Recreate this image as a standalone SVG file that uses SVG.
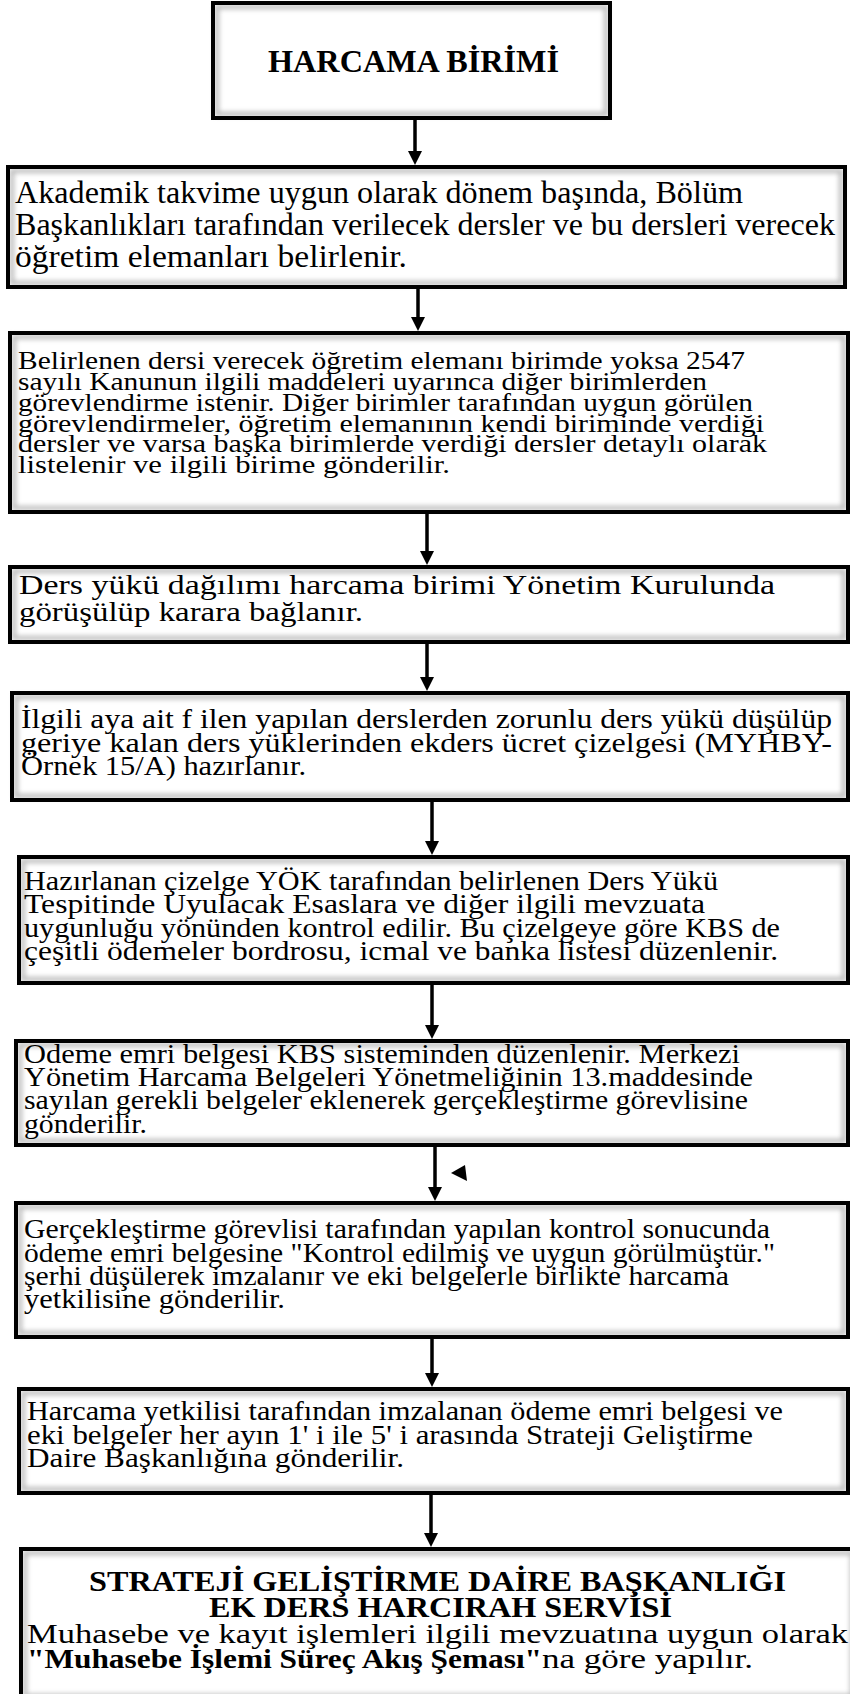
<svg xmlns="http://www.w3.org/2000/svg" width="850" height="1694" viewBox="0 0 850 1694" xml:space="preserve">
<defs>
<style>
text{font-family:"Liberation Serif","Times New Roman",serif;fill:#000;}
.t{font-size:28px;}
.t3{font-size:26px;}
.t2{font-size:31px;}
.b{font-weight:bold;font-size:29px;}
.bg{fill:#fff;stroke:none;}
.sh{fill:none;stroke:#b5b5b5;stroke-width:4;}
.bd{fill:none;stroke:#000;stroke-width:4;}
.conn{stroke:#000;stroke-width:3.5;fill:none;}
</style>
<filter id="blur" x="-5%" y="-20%" width="110%" height="140%"><feGaussianBlur stdDeviation="2.5"/></filter>
<marker id="ah" viewBox="0 0 14 14" refX="8" refY="7" markerWidth="14" markerHeight="14" markerUnits="userSpaceOnUse" orient="auto"><path d="M0,0 L14,7 L0,14 z" fill="#000"/></marker>
</defs>
<rect x="0" y="0" width="850" height="1694" fill="#fff"/>

<g id="n1">
<rect class="bg" x="213" y="3" width="397" height="115"/>
<rect class="sh" x="217" y="7" width="389" height="107" filter="url(#blur)"/>
<text class="b" x="268" y="72" style="font-size:32px" textLength="291" lengthAdjust="spacingAndGlyphs">HARCAMA BİRİMİ</text>
<rect class="bd" x="213" y="3" width="397" height="115"/>
</g>

<g id="n2">
<rect class="bg" x="8" y="167" width="837" height="120"/>
<rect class="sh" x="12" y="171" width="829" height="112" filter="url(#blur)"/>
<text class="t2" x="15" y="203" textLength="728" lengthAdjust="spacingAndGlyphs">Akademik takvime uygun olarak dönem başında, Bölüm</text>
<text class="t2" x="15" y="235" textLength="820" lengthAdjust="spacingAndGlyphs">Başkanlıkları tarafından verilecek dersler ve bu dersleri verecek</text>
<text class="t2" x="15" y="267" textLength="392" lengthAdjust="spacingAndGlyphs">öğretim  elemanları  belirlenir.</text>
<rect class="bd" x="8" y="167" width="837" height="120"/>
</g>

<g id="n3">
<rect class="bg" x="10" y="333" width="838" height="179"/>
<rect class="sh" x="14" y="337" width="830" height="171" filter="url(#blur)"/>
<text class="t3" x="18" y="369" textLength="727" lengthAdjust="spacingAndGlyphs">Belirlenen dersi verecek öğretim elemanı birimde yoksa 2547</text>
<text class="t3" x="18" y="390" textLength="689" lengthAdjust="spacingAndGlyphs">sayılı Kanunun ilgili maddeleri uyarınca diğer birimlerden</text>
<text class="t3" x="18" y="411" textLength="735" lengthAdjust="spacingAndGlyphs">görevlendirme istenir. Diğer birimler tarafından uygun görülen</text>
<text class="t3" x="18" y="432" textLength="746" lengthAdjust="spacingAndGlyphs">görevlendirmeler, öğretim elemanının kendi biriminde verdiği</text>
<text class="t3" x="18" y="452" textLength="749" lengthAdjust="spacingAndGlyphs">dersler ve varsa başka birimlerde verdiği dersler detaylı olarak</text>
<text class="t3" x="18" y="473" textLength="432" lengthAdjust="spacingAndGlyphs">listelenir  ve ilgili  birime   gönderilir.</text>
<rect class="bd" x="10" y="333" width="838" height="179"/>
</g>

<g id="n4">
<rect class="bg" x="10" y="567" width="838" height="75"/>
<rect class="sh" x="14" y="571" width="830" height="67" filter="url(#blur)"/>
<text class="t" x="19" y="594" textLength="756" lengthAdjust="spacingAndGlyphs">Ders yükü  dağılımı  harcama  birimi  Yönetim  Kurulunda</text>
<text class="t" x="19" y="621" textLength="344" lengthAdjust="spacingAndGlyphs">görüşülüp  karara bağlanır.</text>
<rect class="bd" x="10" y="567" width="838" height="75"/>
</g>

<g id="n5">
<rect class="bg" x="12" y="693" width="836" height="107"/>
<rect class="sh" x="16" y="697" width="828" height="99" filter="url(#blur)"/>
<text class="t" x="21" y="728" textLength="811" lengthAdjust="spacingAndGlyphs">İlgili aya ait f ilen yapılan derslerden zorunlu ders yükü düşülüp</text>
<text class="t" x="21" y="752" textLength="811" lengthAdjust="spacingAndGlyphs">geriye kalan ders yüklerinden ekders ücret çizelgesi (MYHBY-</text>
<text class="t" x="21" y="775" textLength="285" lengthAdjust="spacingAndGlyphs">Örnek 15/A) hazırlanır.</text>
<rect class="bd" x="12" y="693" width="836" height="107"/>
</g>

<g id="n6">
<rect class="bg" x="19" y="857" width="829" height="126"/>
<rect class="sh" x="23" y="861" width="821" height="118" filter="url(#blur)"/>
<text class="t" x="24" y="890" textLength="694" lengthAdjust="spacingAndGlyphs">Hazırlanan çizelge YÖK tarafından belirlenen Ders Yükü</text>
<text class="t" x="24" y="913" textLength="681" lengthAdjust="spacingAndGlyphs">Tespitinde  Uyulacak  Esaslara  ve diğer  ilgili  mevzuata</text>
<text class="t" x="24" y="937" textLength="756" lengthAdjust="spacingAndGlyphs">uygunluğu yönünden kontrol edilir. Bu çizelgeye göre KBS de</text>
<text class="t" x="24" y="960" textLength="754" lengthAdjust="spacingAndGlyphs">çeşitli  ödemeler  bordrosu,  icmal  ve banka listesi  düzenlenir.</text>
<rect class="bd" x="19" y="857" width="829" height="126"/>
</g>

<g id="n7">
<rect class="bg" x="16" y="1041" width="832" height="104"/>
<rect class="sh" x="20" y="1045" width="824" height="96" filter="url(#blur)"/>
<text class="t" x="24" y="1063" textLength="716" lengthAdjust="spacingAndGlyphs">Odeme emri belgesi KBS  sisteminden düzenlenir. Merkezi</text>
<text class="t" x="24" y="1086" textLength="729" lengthAdjust="spacingAndGlyphs">Yönetim Harcama Belgeleri Yönetmeliğinin 13.maddesinde</text>
<text class="t" x="24" y="1109" textLength="724" lengthAdjust="spacingAndGlyphs">sayılan gerekli belgeler eklenerek gerçekleştirme görevlisine</text>
<text class="t" x="24" y="1133" textLength="123" lengthAdjust="spacingAndGlyphs">gönderilir.</text>
<rect class="bd" x="16" y="1041" width="832" height="104"/>
</g>

<g id="n8">
<rect class="bg" x="16" y="1203" width="832" height="134"/>
<rect class="sh" x="20" y="1207" width="824" height="126" filter="url(#blur)"/>
<text class="t" x="24" y="1238" textLength="746" lengthAdjust="spacingAndGlyphs">Gerçekleştirme görevlisi tarafından yapılan kontrol sonucunda</text>
<text class="t" x="24" y="1262" textLength="751" lengthAdjust="spacingAndGlyphs">ödeme emri belgesine "Kontrol edilmiş ve uygun görülmüştür."</text>
<text class="t" x="24" y="1285" textLength="705" lengthAdjust="spacingAndGlyphs">şerhi düşülerek imzalanır ve eki  belgelerle birlikte harcama</text>
<text class="t" x="24" y="1308" textLength="261" lengthAdjust="spacingAndGlyphs">yetkilisine  gönderilir.</text>
<rect class="bd" x="16" y="1203" width="832" height="134"/>
</g>

<g id="n9">
<rect class="bg" x="19" y="1389" width="829" height="104"/>
<rect class="sh" x="23" y="1393" width="821" height="96" filter="url(#blur)"/>
<text class="t" x="27" y="1420" textLength="756" lengthAdjust="spacingAndGlyphs">Harcama yetkilisi tarafından imzalanan ödeme emri belgesi  ve</text>
<text class="t" x="27" y="1444" textLength="726" lengthAdjust="spacingAndGlyphs">eki belgeler her ayın  1' i ile 5' i arasında  Strateji Geliştirme</text>
<text class="t" x="27" y="1467" textLength="377" lengthAdjust="spacingAndGlyphs">Daire  Başkanlığına  gönderilir.</text>
<rect class="bd" x="19" y="1389" width="829" height="104"/>
</g>

<g id="n10">
<rect class="bg" x="21" y="1549" width="835" height="151"/>
<rect class="sh" x="25" y="1553" width="827" height="143" filter="url(#blur)"/>
<text class="b" x="89" y="1591" textLength="697" lengthAdjust="spacingAndGlyphs">STRATEJİ GELİŞTİRME DAİRE BAŞKANLIĞI</text>
<text class="b" x="209" y="1617" textLength="463" lengthAdjust="spacingAndGlyphs">EK DERS HARCIRAH SERVİSİ</text>
<text class="t" x="27" y="1643" textLength="821" lengthAdjust="spacingAndGlyphs">Muhasebe  ve kayıt  işlemleri  ilgili  mevzuatına  uygun  olarak</text>
<text class="b" x="27" y="1668" style="font-size:28px" textLength="515" lengthAdjust="spacingAndGlyphs">"Muhasebe İşlemi Süreç Akış Şeması"</text>
<text class="t" x="542" y="1668" textLength="211" lengthAdjust="spacingAndGlyphs">na göre yapılır.</text>
<rect class="bd" x="21" y="1549" width="835" height="151"/>
</g>

<g id="connectors">
<line class="conn" x1="415" y1="120" x2="415" y2="159" marker-end="url(#ah)"/>
<line class="conn" x1="418" y1="289" x2="418" y2="325" marker-end="url(#ah)"/>
<line class="conn" x1="427" y1="514" x2="427" y2="559" marker-end="url(#ah)"/>
<line class="conn" x1="427" y1="644" x2="427" y2="685" marker-end="url(#ah)"/>
<line class="conn" x1="432" y1="802" x2="432" y2="849" marker-end="url(#ah)"/>
<line class="conn" x1="432" y1="985" x2="432" y2="1033" marker-end="url(#ah)"/>
<line class="conn" x1="435" y1="1147" x2="435" y2="1195" marker-end="url(#ah)"/>
<line class="conn" x1="432" y1="1339" x2="432" y2="1381" marker-end="url(#ah)"/>
<line class="conn" x1="431" y1="1495" x2="431" y2="1541" marker-end="url(#ah)"/>
<polygon points="451,1173 465,1165 467,1181" fill="#000"/>
</g>
</svg>
